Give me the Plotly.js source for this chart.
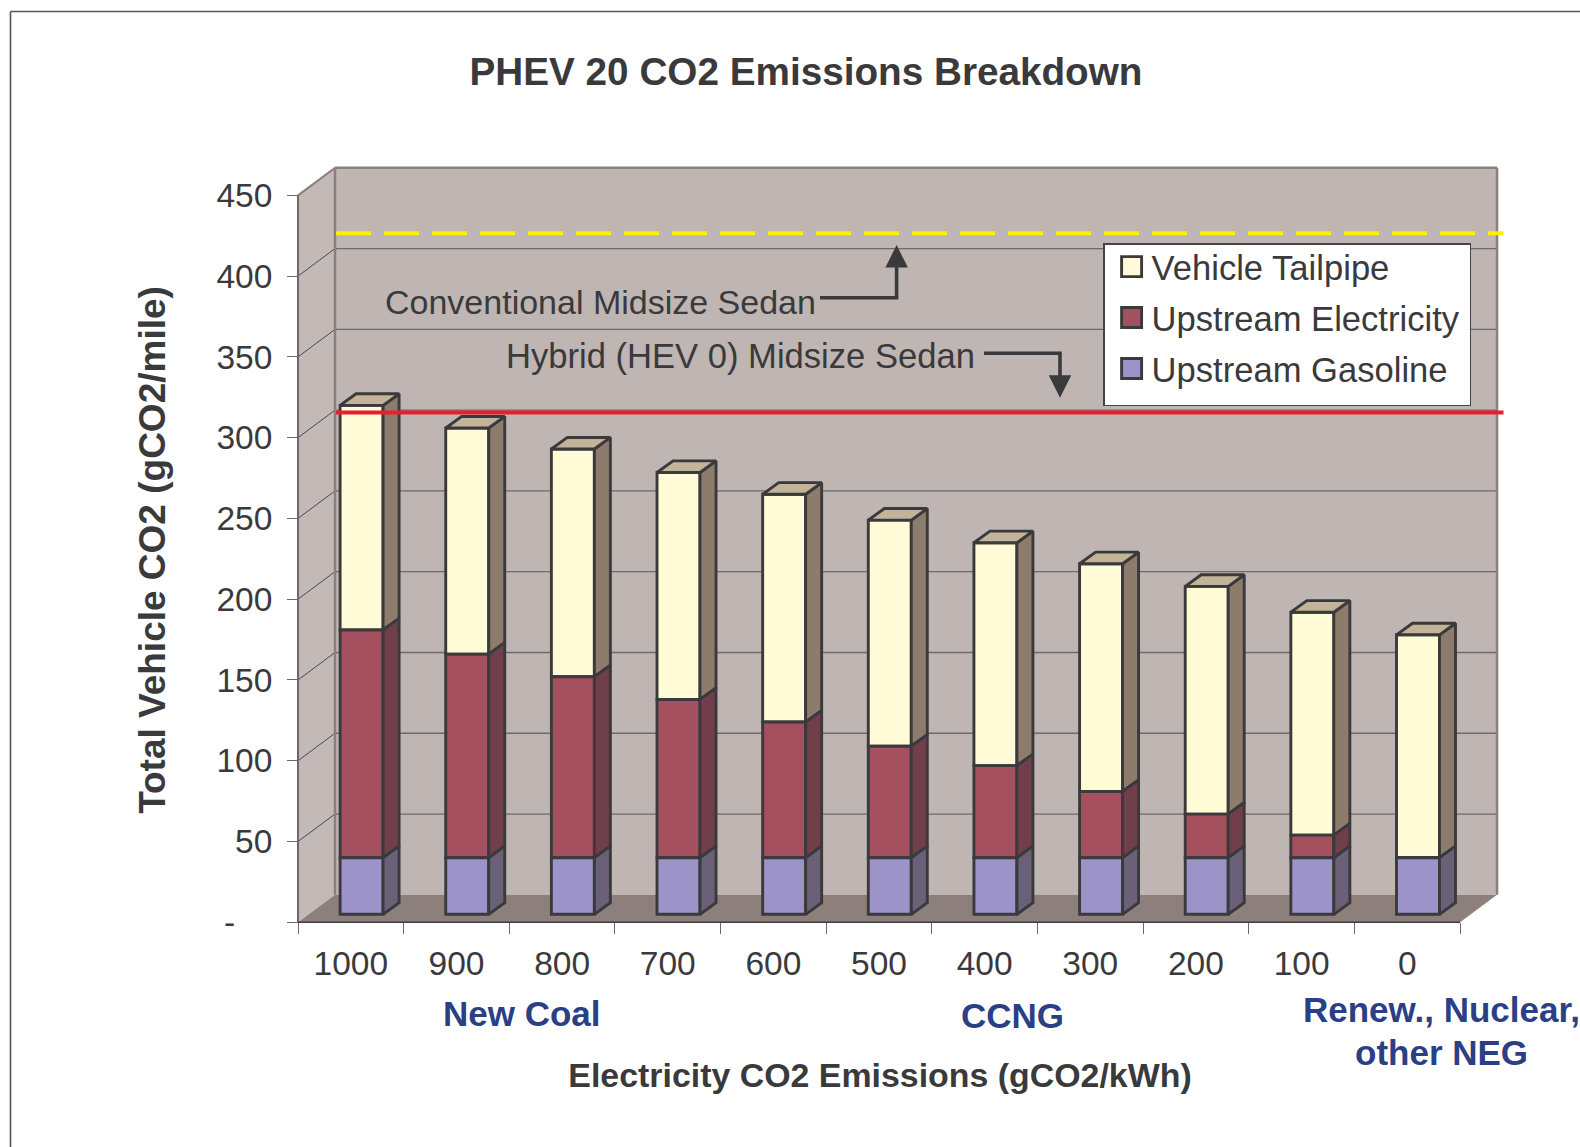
<!DOCTYPE html>
<html><head><meta charset="utf-8">
<script src="https://cdn.plot.ly/plotly-3.0.1.min.js"></script>
<style>html,body{margin:0;padding:0;background:#fff;overflow:hidden}</style>
</head><body><div id="chart" style="width:1580px;height:1147px"></div>
<script>
// ---- chart values ----
const categories = ['1000','900','800','700','600','500','400','300','200','100','0'];
const upstreamGasoline    = [35,35,35,35,35,35,35,35,35,35,35];
const upstreamElectricity = [141,126,112,98,84,69,57,41,27,14,0];
const vehicleTailpipe     = [139,140,141,140.5,141,140,138,141,141,138,138];
const yTickVals = [0,50,100,150,200,250,300,350,400,450];
const yTickText = ['-\u00A0\u00A0\u00A0\u00A0','50','100','150','200','250','300','350','400','450'];
const conventionalLevel = 426.5;
const hybridLevel = 315.5;

// ---- projection of the fake-3D frame, in axis units ----
const W = 1580, H = 1147;
const pxPerCat = 105.64, pxPerUnit = 1.6155, x0px = 298, y0px = 922.3;
const wallDX = 37 / pxPerCat, wallDY = 27.5 / pxPerUnit;
const barShiftX = 0.102, barShiftY = 8 / pxPerUnit;
const barDepthX = 16 / pxPerCat, barDepthY = 11.6 / pxPerUnit;
const barWidth = 0.407;
const xv = p => (p - x0px) / pxPerCat, yv = p => (y0px - p) / pxPerUnit;
const nCat = categories.length, yMax = 450;

const ink = '#3a3a3d', font = 'Liberation Sans, Arial, sans-serif';
const colors = {
  gas:  {front:'#9c94c8', side:'#6a6078'},
  elec: {front:'#a5505f', side:'#703f4a'},
  tail: {front:'#fffbd6', side:'#8d7c6b'},
  top: '#c3b499'
};

const xs = categories.map((_, i) => i + 0.5 + barShiftX);
const baseGas = categories.map(() => barShiftY);
const baseElec = baseGas.map((b, i) => b + upstreamGasoline[i]);
const baseTail = baseElec.map((b, i) => b + upstreamElectricity[i]);
const topAll = baseTail.map((b, i) => b + vehicleTailpipe[i]);
const edge = 2.9;

function barTrace(name, vals, base, c) {
  return {type:'bar', name, legendgroup:name, x:xs, y:vals, base, width:barWidth,
    customdata:categories, hovertemplate:'%{customdata} gCO2/kWh: %{y}<extra>'+name+'</extra>',
    marker:{color:c.front, line:{color:ink, width:edge}}};
}
function sidePoly(vals, base, color) {
  const px = [], py = [];
  vals.forEach((v, i) => {
    if (v <= 0) return;
    const r = xs[i] + barWidth/2, b = base[i], t = b + v;
    px.push(r, r + barDepthX, r + barDepthX, r, r, null);
    py.push(b, b + barDepthY, t + barDepthY, t, b, null);
  });
  return {type:'scatter', mode:'lines', x:px, y:py, fill:'toself', fillcolor:color,
    line:{color:ink, width:edge}, showlegend:false, hoverinfo:'skip'};
}
function topPoly(color) {
  const px = [], py = [];
  topAll.forEach((t, i) => {
    const l = xs[i] - barWidth/2, r = xs[i] + barWidth/2;
    px.push(l, l + barDepthX, r + barDepthX, r, l, null);
    py.push(t, t + barDepthY, t + barDepthY, t, t, null);
  });
  return {type:'scatter', mode:'lines', x:px, y:py, fill:'toself', fillcolor:color,
    line:{color:ink, width:edge}, showlegend:false, hoverinfo:'skip'};
}
const refX = [xv(336), xv(1503.5)];
const traces = [
  barTrace('Vehicle Tailpipe', vehicleTailpipe, baseTail, colors.tail),
  barTrace('Upstream Electricity', upstreamElectricity, baseElec, colors.elec),
  barTrace('Upstream Gasoline', upstreamGasoline, baseGas, colors.gas),
  sidePoly(vehicleTailpipe, baseTail, colors.tail.side),
  sidePoly(upstreamElectricity, baseElec, colors.elec.side),
  sidePoly(upstreamGasoline, baseGas, colors.gas.side),
  topPoly(colors.top),
  {type:'scatter', mode:'lines', x:refX, y:[conventionalLevel,conventionalLevel], showlegend:false,
   name:'Conventional Midsize Sedan', line:{color:'#fff000', width:4, dash:'35px,13px'}, hoverinfo:'name'},
  {type:'scatter', mode:'lines', x:refX, y:[hybridLevel,hybridLevel], showlegend:false,
   name:'Hybrid (HEV 0) Midsize Sedan', line:{color:'#ed1c2c', width:4}, hoverinfo:'name'}
];

// ---- walls and floor ----
const wallFill = '#bfb5b2', sideFill = '#c3bab7', floorFill = '#8d7f7b', wallEdge = '#8c807c';
const poly = pts => 'M' + pts.map(p => p[0] + ',' + p[1]).join('L') + 'Z';
const seg = (x1,y1,x2,y2,color,width) => ({type:'line', layer:'below', xref:'x', yref:'y', x0:x1, y0:y1, x1:x2, y1:y2, line:{color, width}});
const shapes = [
  {type:'path', layer:'below', xref:'x', yref:'y', fillcolor:wallFill, line:{width:0},
   path:poly([[wallDX,wallDY],[nCat+wallDX,wallDY],[nCat+wallDX,yMax+wallDY],[wallDX,yMax+wallDY]])},
  {type:'path', layer:'below', xref:'x', yref:'y', fillcolor:sideFill, line:{width:0},
   path:poly([[0,0],[wallDX,wallDY],[wallDX,yMax+wallDY],[0,yMax]])},
  {type:'path', layer:'below', xref:'x', yref:'y', fillcolor:floorFill, line:{width:0},
   path:poly([[0,0],[nCat,0],[nCat+wallDX,wallDY],[wallDX,wallDY]])}
];
yTickVals.filter(v => v > 0 && v < yMax).forEach(v => {
  shapes.push(seg(wallDX, v + wallDY, nCat + wallDX, v + wallDY, '#6f6a6a', 1.3));
  shapes.push(seg(0, v, wallDX, v + wallDY, '#4a4747', 1));
});
shapes.push(
  seg(wallDX, wallDY, wallDX, yMax + wallDY, wallEdge, 2.5),
  seg(wallDX, yMax + wallDY, nCat + wallDX, yMax + wallDY, wallEdge, 2.5),
  seg(nCat + wallDX, wallDY, nCat + wallDX, yMax + wallDY, wallEdge, 2.5),
  seg(0, yMax, wallDX, yMax + wallDY, wallEdge, 2),
  seg(0, 0, 0, yMax, '#6d6868', 2),
  seg(0, 0, nCat, 0, '#3f3d3e', 1.5)
);
// page frame and arrow stems
const pline = (x1,y1,x2,y2,color,width) => ({type:'line', layer:'above', xref:'paper', yref:'paper',
  x0:x1/W, y0:1-y1/H, x1:x2/W, y1:1-y2/H, line:{color, width}});
shapes.push(pline(10.5,11.5,1580,11.5,'#555',1.6), pline(10.5,11.5,10.5,1147,'#555',1.6));
shapes.push(pline(820,297.7,898.4,297.7,ink,3.6), pline(984,353.3,1061.8,353.3,ink,3.6));

// ---- text ----
const note = (text, xp, yp, size, color, bold) => ({text, xref:'paper', yref:'paper', x:xp/W, y:1-yp/H,
  xanchor:'center', yanchor:'middle', showarrow:false,
  font:{family:font, size, color, weight:bold?700:400}});
const arrow = (xp, yFrom, yTo) => ({text:'', xref:'paper', yref:'paper', x:xp/W, y:1-yTo/H, ax:0, ay:yFrom-yTo,
  axref:'pixel', ayref:'pixel', showarrow:true, arrowhead:2, arrowsize:1.25, arrowwidth:3.6, arrowcolor:ink, standoff:0});
const annotations = [
  note('Conventional Midsize Sedan', 600.5, 302, 34, ink),
  note('Hybrid (HEV 0) Midsize Sedan', 740.5, 356, 34.6, ink),
  note('New Coal', 522, 1013, 35, '#2a3f85', true),
  note('CCNG', 1012, 1015, 35, '#2a3f85', true),
  note('Renew., Nuclear,', 1441, 1009, 35, '#2a3f85', true),
  note('other NEG', 1441, 1052, 35, '#2a3f85', true),
  arrow(896.6, 297.7, 245),
  arrow(1060, 353.3, 397.7)
];

const plotL = 250, plotR = 1510, plotT = 160, plotB = 940;
const layout = {
  width:W, height:H, autosize:false, margin:{l:0,r:0,t:0,b:0,pad:0},
  paper_bgcolor:'#fff', plot_bgcolor:'rgba(0,0,0,0)',
  font:{family:font, color:ink, size:33},
  barmode:'overlay', hovermode:'closest',
  title:{text:'PHEV 20 CO2 Emissions Breakdown', x:806/W, xref:'paper', xanchor:'center', y:1-71/H, yref:'paper', yanchor:'middle',
    font:{family:font, size:38.7, color:ink, weight:700}},
  xaxis:{domain:[plotL/W, plotR/W], range:[xv(plotL), xv(plotR)], anchor:'free', position:1-y0px/H,
    showgrid:false, zeroline:false, showline:false, fixedrange:true,
    tickmode:'array', tickvals:categories.map((_, i) => i + 0.5), ticktext:categories, ticks:'', tickangle:0,
    ticklabelstandoff:18,
    tickfont:{family:font, size:33.5, color:ink},
    minor:{tickmode:'array', tickvals:Array.from({length:nCat+1}, (_, i) => i), ticks:'outside', ticklen:11, tickwidth:1.3, tickcolor:'#6d6868', showgrid:false},
    title:{text:'Electricity CO2 Emissions (gCO2/kWh)', standoff:82, font:{family:font, size:33.9, color:ink, weight:700}}},
  yaxis:{domain:[1-plotB/H, 1-plotT/H], range:[yv(plotB), yv(plotT)], anchor:'free', position:x0px/W,
    showgrid:false, zeroline:false, showline:false, fixedrange:true,
    tickmode:'array', tickvals:yTickVals, ticktext:yTickText, ticks:'outside', ticklen:11, tickwidth:1.3, tickcolor:'#6d6868',
    ticklabelstandoff:8,
    tickfont:{family:font, size:33.5, color:ink},
    title:{text:'Total Vehicle CO2 (gCO2/mile)', standoff:38, font:{family:font, size:37, color:ink, weight:700}}},
  legend:{x:1103.3/W, y:1-243.3/H, xanchor:'left', yanchor:'top', bgcolor:'#fff', bordercolor:'#444', borderwidth:1.3,
    traceorder:'grouped', tracegroupgap:3, font:{family:font, size:34.6, color:ink}, itemwidth:37,
    itemclick:false, itemdoubleclick:false},
  showlegend:true, shapes, annotations
};

Plotly.newPlot('chart', traces, layout, {displayModeBar:false, responsive:false}).then(() => {
  document.querySelectorAll('.legend .legendpoints path').forEach(p => p.setAttribute('d','M13.5,10H-6.5V-10H13.5Z'));
  // the reference legend sits its rows a little higher inside a slightly wider box
  document.querySelectorAll('.legend .traces').forEach(g => {
    const m = /translate\(([-\d.]+),\s*([-\d.]+)\)/.exec(g.getAttribute('transform') || '');
    if (m) g.setAttribute('transform', 'translate(' + m[1] + ',' + (parseFloat(m[2]) - 7) + ')');
  });
  const bg = document.querySelector('.legend rect.bg');
  if (bg) bg.setAttribute('width', parseFloat(bg.getAttribute('width')) + 5);
});
</script></body></html>
